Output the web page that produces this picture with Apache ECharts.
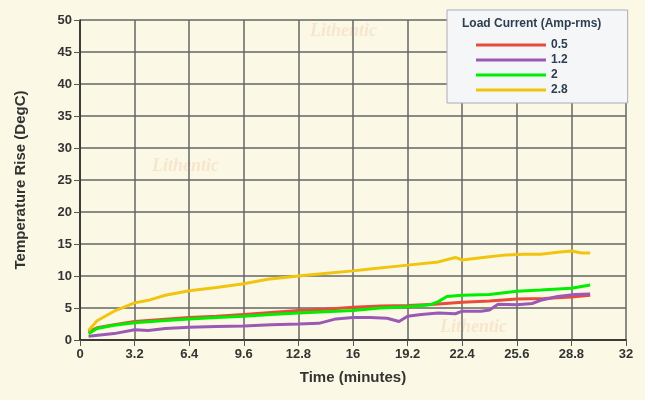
<!DOCTYPE html>
<html><head><meta charset="utf-8">
<script src="https://cdn.jsdelivr.net/npm/echarts@6/dist/echarts.min.js"></script>
<style>html,body{margin:0;padding:0;background:#fbf9e5}#c{width:645px;height:400px}</style>
</head><body><div id="c"></div>
<script>
const seriesNames = ['0.5','1.2','2','2.8'];
const colors = ['#e74c3c','#9b59b6','#00ee00','#f1c40f'];
const s05 = [[0.5,1.3],[1,1.9],[2,2.4],[3.2,2.9],[4.8,3.2],[6.4,3.5],[8,3.7],[9.6,4.0],[11.2,4.3],[12.8,4.6],[14.4,4.8],[16,5.1],[17.6,5.3],[19.2,5.4],[20.8,5.6],[22.4,5.9],[24,6.1],[25.6,6.4],[27.2,6.5],[28.8,6.7],[29.9,7.0]];
const s12 = [[0.5,0.6],[2,1.0],[3.2,1.6],[4,1.5],[5,1.8],[6.4,2.0],[8,2.1],[9.6,2.2],[11.2,2.4],[12.8,2.5],[14,2.6],[15,3.3],[16,3.5],[17,3.5],[18,3.4],[18.7,2.9],[19.2,3.7],[20,4.0],[21,4.2],[22,4.1],[22.4,4.5],[23.5,4.5],[24,4.7],[24.5,5.6],[25.6,5.5],[26.5,5.7],[27,6.2],[28,6.8],[29,7.1],[29.9,7.2]];
const s2 = [[0.5,1.0],[1,1.8],[2,2.3],[3.2,2.7],[4.8,3.0],[6.4,3.3],[8,3.5],[9.6,3.7],[11.2,4.0],[12.8,4.2],[14.4,4.4],[16,4.6],[17.6,5.0],[19.2,5.2],[20.5,5.5],[21,6.0],[21.5,6.8],[22.4,7.0],[24,7.1],[25.6,7.6],[27,7.8],[28.8,8.1],[29.9,8.6]];
const s28 = [[0.5,1.5],[1,3.0],[2,4.5],[3.2,5.8],[4,6.2],[5,7.0],[6.4,7.7],[8,8.2],[9.6,8.8],[11,9.5],[12.8,10.0],[14,10.3],[16,10.8],[17,11.1],[19.2,11.7],[21,12.2],[22,12.9],[22.4,12.5],[23,12.7],[24,13.0],[25,13.3],[26,13.4],[27,13.4],[28,13.7],[28.8,13.9],[29.4,13.6],[29.9,13.6]];
const xTicks = [0,3.2,6.4,9.6,12.8,16,19.2,22.4,25.6,28.8,32];
const data = [s05,s12,s2,s28];
const chart = echarts.init(document.getElementById('c'));
const lbl = {color:'#333',fontSize:13,fontFamily:'Liberation Sans, Arial',fontWeight:'bold'};
chart.setOption({
  backgroundColor:'#fbf9e5',
  animation:false,
  grid:{left:80,right:19,top:20,bottom:60},
  graphic:[
    {type:'text',left:310,top:22,style:{text:'Lithentic',fill:'rgba(240,170,140,0.25)',font:'italic bold 18px Liberation Serif'}},
    {type:'text',left:152,top:157,style:{text:'Lithentic',fill:'rgba(240,170,140,0.25)',font:'italic bold 18px Liberation Serif'}},
    {type:'text',left:440,top:318,style:{text:'Lithentic',fill:'rgba(240,170,140,0.25)',font:'italic bold 18px Liberation Serif'}}
  ],
  legend:{
    left:447,top:10,orient:'vertical',backgroundColor:'#f5f6f8',borderColor:'#aab',borderWidth:1,
    padding:[28,60,6,29],itemWidth:70,itemHeight:3,itemGap:1,icon:'rect',
    textStyle:{color:'#2c3e50',fontSize:12,fontWeight:'bold',fontFamily:'Liberation Sans, Arial',lineHeight:14},
    data:seriesNames
  },
  title:{text:'Load Current (Amp-rms)',left:457,top:13,textStyle:{color:'#2c3e50',fontSize:12,fontWeight:'bold',fontFamily:'Liberation Sans, Arial'}},
  xAxis:{type:'value',min:0,max:32,interval:3.2,name:'Time (minutes)',nameLocation:'middle',nameGap:30,
    nameTextStyle:{color:'#333',fontSize:15,fontWeight:'bold',fontFamily:'Liberation Sans, Arial'},
    axisLine:{show:true,lineStyle:{color:'#222',width:1.5}},axisTick:{show:true,length:6,lineStyle:{color:'#555'}},
    axisLabel:Object.assign({},lbl,{formatter:v=>{const t=xTicks.find(a=>Math.abs(a-v)<1e-6);return t===undefined?'':String(t);}}),
    splitLine:{show:true,lineStyle:{color:'#666',width:1.5}}},
  yAxis:{type:'value',min:0,max:50,interval:5,name:'Temperature Rise (DegC)',nameLocation:'middle',nameGap:52,
    nameTextStyle:{color:'#333',fontSize:15,fontWeight:'bold',fontFamily:'Liberation Sans, Arial'},
    axisLine:{show:true,lineStyle:{color:'#222',width:1.5}},axisTick:{show:true,length:6,lineStyle:{color:'#555'}},
    axisLabel:lbl,splitLine:{show:true,lineStyle:{color:'#666',width:1.5}}},
  series:seriesNames.map((n,i)=>({name:n,type:'line',data:data[i],showSymbol:false,lineStyle:{width:3,color:colors[i]},itemStyle:{color:colors[i]}}))
});
</script></body></html>
